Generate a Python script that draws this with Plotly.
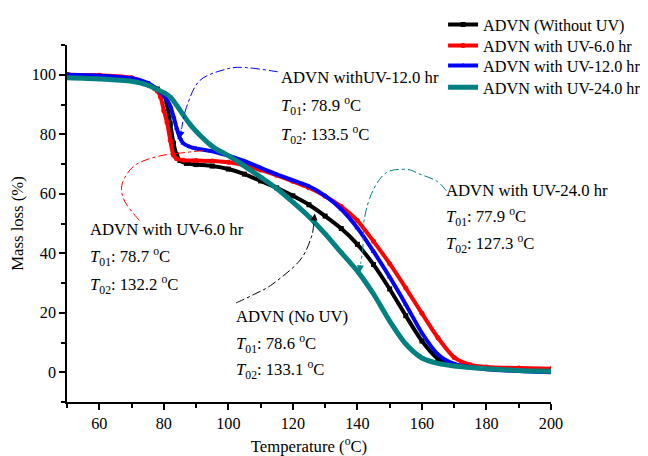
import plotly.graph_objects as go

# ---------------- data ----------------
t_black = [50, 60, 70, 75, 78, 80, 81, 82, 83, 84, 85, 87, 90, 95, 100, 105, 110, 115, 120, 125,
           130, 135, 140, 145, 150, 155, 160, 165, 170, 180, 190, 200]
m_black = [100, 99.6, 98.6, 97, 95.2, 93.5, 90, 83.5, 77, 73, 71.2, 70.2, 69.8, 69.3, 68.3, 66.6, 64.3,
           62, 59.3, 56.3, 52.5, 48.3, 43, 36.2, 28, 19, 10.5, 4.5, 2.5, 1.5, 1, 0.8]

t_red = [50, 60, 70, 75, 77, 78, 79, 80, 81, 82, 83, 84, 86, 90, 95, 100, 105, 110, 115, 120, 125,
         130, 135, 140, 145, 150, 155, 160, 165, 170, 175, 180, 190, 200]
m_red = [100, 99.8, 99, 97, 95.5, 94.5, 92.5, 88, 84, 78, 73, 71.8, 71.3, 71.2, 71, 70.6, 69.6, 68,
         66.2, 64.2, 62, 59.2, 55.7, 51, 44, 36.5, 28.3, 19.8, 11.5, 5, 2.5, 1.8, 1.4, 1.2]

t_blue = [50, 60, 70, 75, 78, 80, 81, 82, 83, 84, 85, 86, 88, 90, 95, 100, 105, 110, 115, 120, 125,
          130, 135, 140, 145, 150, 155, 160, 165, 170, 180, 190, 200]
m_blue = [100, 99.7, 98.8, 97.2, 95, 93, 91.5, 89.5, 86, 82, 78.8, 77, 75.8, 75.2, 74.3, 72.8, 71,
          68.7, 66.5, 64.5, 62.5, 59.3, 54.8, 48.5, 40.6, 32, 22.8, 13.2, 6, 2.8, 1, 0.4, 0]

t_teal = [50, 60, 70, 75, 78, 80, 82, 84, 86, 88, 90, 92, 94, 96, 100, 105, 110, 115, 120, 125, 130,
          135, 140, 145, 150, 155, 160, 165, 170, 180, 190, 200]
m_teal = [99, 98.6, 97.8, 96.5, 95, 94, 92.5, 89.7, 86.5, 83.5, 81, 78.8, 76.8, 75.2, 72.8, 69.3,
          65.6, 61.8, 57.2, 52.3, 46.5, 40.2, 34, 26.3, 17.2, 9.5, 4.8, 3, 2.1, 1.2, 0.6, 0.3]

series_names = ["ADVN (Without UV)", "ADVN with UV-6.0 hr", "ADVN with UV-12.0 hr", "ADVN with UV-24.0 hr"]
colors = ["#000000", "#FF0000", "#0000FF", "#008080"]
symbols = ["square", "circle", "triangle-up", "triangle-down"]

x_ticks = [60, 80, 100, 120, 140, 160, 180, 200]
y_ticks = [0, 20, 40, 60, 80, 100]

# annotation texts: (lines, x, y-lines)
labels = [
    (["ADVN withUV-12.0 hr", "<i>T</i><sub>01</sub>: 78.9 <sup>o</sup>C", "<i>T</i><sub>02</sub>: 133.5 <sup>o</sup>C"],
     115.7, [99.0, 89.5, 79.6]),
    (["ADVN with UV-6.0 hr", "<i>T</i><sub>01</sub>: 78.7 <sup>o</sup>C", "<i>T</i><sub>02</sub>: 132.2 <sup>o</sup>C"],
     56.4, [48.1, 38.9, 29.4]),
    (["ADVN (No UV)", "<i>T</i><sub>01</sub>: 78.6 <sup>o</sup>C", "<i>T</i><sub>02</sub>: 133.1 <sup>o</sup>C"],
     101.8, [18.6, 9.6, 0.6]),
    (["ADVN with UV-24.0 hr", "<i>T</i><sub>01</sub>: 77.9 <sup>o</sup>C", "<i>T</i><sub>02</sub>: 127.3 <sup>o</sup>C"],
     166.9, [61.0, 52.2, 43.2]),
]

# connector curves (decoration) in data coords
connectors = [
    ("#0000FF", [(115.3, 101), (105.6, 102.4), (99.4, 101.9), (91.1, 98), (87, 89), (85.5, 81.8)], (84.9, 78.6)),
    ("#FF0000", [(92.1, 74.5), (87, 73.9), (78.7, 72.7), (71.5, 69.9), (67.9, 65.4), (66.9, 61),
                 (68.4, 56.5), (72.5, 50.9)], None),
    ("#000000", [(102.4, 23.3), (108, 26.2), (113.8, 29.7), (122.1, 37.5), (125.7, 45.3), (126.5, 50.5)],
     (126.8, 53.4)),
    ("#008080", [(167.6, 61), (164.5, 64.3), (159.3, 66.6), (155.2, 68.2), (149, 67.1), (144.8, 61),
                 (142.2, 52), (141.7, 42), (141.0, 36.5)], (140.7, 33.6)),
]

FONT = "Liberation Serif, Times New Roman, serif"
FS = 16.7
LFS = 16.2

legend_ids = ["legend", "legend2", "legend3", "legend4"]
legend_rows = [1.056, 0.997, 0.941, 0.880]

fig = go.Figure()
for t, m, name, c, s, lid in zip([t_black, t_red, t_blue, t_teal], [m_black, m_red, m_blue, m_teal],
                                 series_names, colors, symbols, legend_ids):
    fig.add_trace(go.Scatter(
        x=t, y=m, name=name, mode="lines+markers", legend=lid,
        line=dict(color=c, width=4 if c != "#008080" else 5, shape="spline", smoothing=0.7),
        marker=dict(symbol=s, size=5, color=c),
    ))


def catmull_path(pts):
    d = "M %.3f,%.3f" % pts[0]
    n = len(pts)
    for i in range(n - 1):
        p0 = pts[i - 1] if i > 0 else pts[i]
        p1 = pts[i]
        p2 = pts[i + 1]
        p3 = pts[i + 2] if i + 2 < n else pts[i + 1]
        c1 = (p1[0] + (p2[0] - p0[0]) / 6, p1[1] + (p2[1] - p0[1]) / 6)
        c2 = (p2[0] - (p3[0] - p1[0]) / 6, p2[1] - (p3[1] - p1[1]) / 6)
        d += " C %.3f,%.3f %.3f,%.3f %.3f,%.3f" % (c1[0], c1[1], c2[0], c2[1], p2[0], p2[1])
    return d


shapes = []
annotations = []
for col, pts, tip in connectors:
    shapes.append(dict(type="path", xref="x", yref="y", path=catmull_path(pts),
                       line=dict(color=col, width=1, dash="dashdot")))
    if tip is not None:
        annotations.append(dict(x=tip[0], y=tip[1], ax=pts[-1][0], ay=pts[-1][1], xref="x", yref="y",
                                axref="x", ayref="y", text="", showarrow=True, arrowhead=2,
                                arrowsize=1.4, arrowwidth=1, arrowcolor=col))

for lines, x0, ys in labels:
    for txt, yy in zip(lines, ys):
        annotations.append(dict(x=x0, y=yy, xref="x", yref="y", text=txt, showarrow=False,
                                xanchor="left", yanchor="middle",
                                font=dict(family=FONT, size=FS, color="black")))

layout_legends = {}
for lid, ly in zip(legend_ids, legend_rows):
    layout_legends[lid] = dict(x=0.777, y=ly, xanchor="left", yanchor="middle",
                               bgcolor="rgba(0,0,0,0)", font=dict(family=FONT, size=LFS, color="black"),
                               itemwidth=30)

fig.update_layout(
    width=640, height=448,
    margin=dict(l=59, r=97, t=37, b=54, autoexpand=False),
    paper_bgcolor="white", plot_bgcolor="white",
    font=dict(family=FONT, size=FS, color="black"),
    showlegend=True,
    shapes=shapes,
    annotations=annotations,
    **layout_legends,
)
fig.update_xaxes(range=[50, 200], tickvals=x_ticks, ticktext=[str(v) for v in x_ticks],
                 ticks="outside", ticklen=6, tickwidth=1.5, tickcolor="black",
                 showline=True, linecolor="black", linewidth=1.5, showgrid=False, zeroline=False,
                 minor=dict(tickvals=[50, 70, 90, 110, 130, 150, 170, 190], ticks="outside",
                            ticklen=4, tickwidth=1.5, tickcolor="black"),
                 tickfont=dict(family=FONT, size=16.2, color="black"),
                 title=dict(text="Temperature (<sup>o</sup>C)", font=dict(family=FONT, size=FS), standoff=16))
fig.update_yaxes(range=[-10, 110], tickvals=y_ticks, ticktext=[str(v) for v in y_ticks],
                 ticks="outside", ticklen=6, tickwidth=1.5, tickcolor="black",
                 showline=True, linecolor="black", linewidth=1.5, showgrid=False, zeroline=False,
                 minor=dict(tickvals=[-10, 10, 30, 50, 70, 90, 110], ticks="outside",
                            ticklen=4, tickwidth=1.5, tickcolor="black"),
                 tickfont=dict(family=FONT, size=16.2, color="black"),
                 title=dict(text="Mass loss (%)", font=dict(family=FONT, size=FS), standoff=8))

fig.write_html("out.html")
